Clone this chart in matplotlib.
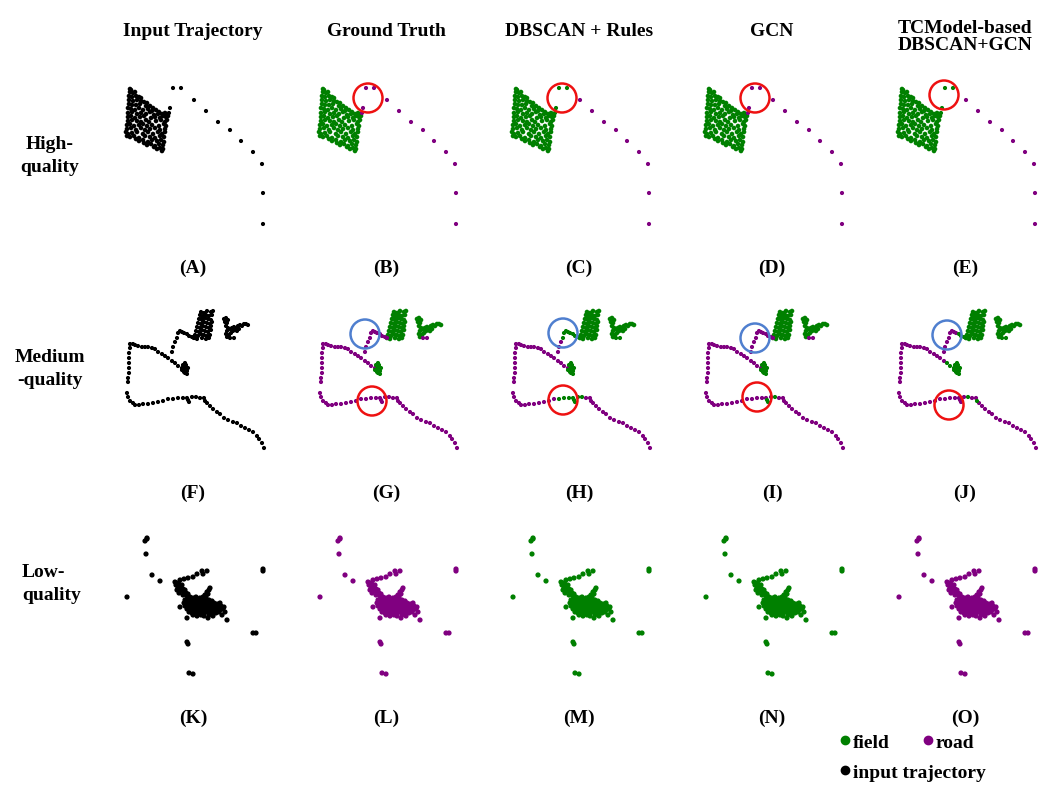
import matplotlib
matplotlib.use('Agg')
import matplotlib.pyplot as plt
from matplotlib.patches import Circle

W, H = 1049, 786
plt.rcParams['font.family'] = ['Liberation Serif', 'DejaVu Serif']
plt.rcParams['font.weight'] = 'bold'

col_titles = ['Input Trajectory', 'Ground Truth', 'DBSCAN + Rules', 'GCN', 'TCModel-based\nDBSCAN+GCN']
row_titles = ['High-\nquality', 'Medium\n-quality', 'Low-\nquality']
letters = ['(A)', '(B)', '(C)', '(D)', '(E)', '(F)', '(G)', '(H)', '(I)', '(J)',
           '(K)', '(L)', '(M)', '(N)', '(O)']

# ---- high quality trajectory (local panel pixels) ----
hq_field_x = [20, 21, 20, 23, 25, 19, 22, 26, 29, 31, 19, 23, 27, 31, 34, 37,
              19, 22, 26, 30, 36, 40, 43, 18, 21, 25, 29, 33, 38, 42, 46, 49,
              18, 22, 27, 31, 36, 40, 44, 48, 52, 55, 57, 18, 21, 25, 30, 34, 41, 45, 50, 53, 56, 58,
              18, 22, 27, 31, 36, 39, 46, 51, 55, 57, 17, 20, 24, 29, 33, 37, 42, 49, 54, 56,
              17, 21, 26, 31, 35, 40, 45, 50, 55, 16, 18, 22, 27, 33, 38, 43, 48, 52, 55,
              17, 20, 24, 29, 35, 40, 45, 50, 54, 26, 29, 33, 38, 42, 47, 51, 54,
              34, 37, 41, 45, 49, 53, 44, 47, 50, 53, 52]
hq_field_y = [19, 20, 22, 23, 22, 26, 27, 26, 27, 28, 30, 31, 30, 31, 32, 33,
              34, 35, 35, 34, 36, 36, 38, 38, 39, 40, 38, 40, 39, 41, 40, 42,
              43, 42, 44, 43, 44, 42, 45, 44, 44, 43, 44, 47, 46, 48, 47, 46, 48, 47, 48, 46, 47, 46,
              51, 50, 51, 52, 50, 52, 51, 50, 52, 50, 55, 54, 56, 55, 54, 56, 55, 56, 54, 56,
              59, 58, 60, 58, 60, 59, 58, 60, 59, 62, 64, 63, 62, 64, 62, 64, 62, 64, 62,
              66, 67, 66, 68, 66, 67, 68, 66, 67, 69, 71, 70, 72, 70, 71, 70, 72,
              73, 75, 74, 76, 74, 75, 77, 79, 78, 79, 81]
hq_road_x = [63, 71, 60, 59, 84, 96, 108, 120, 131, 143, 152, 153, 153]
hq_road_y = [18, 18, 38, 43, 30, 41, 52, 60, 71, 82, 94, 123, 154]
hq_road_lab = ['ppppppppppppp', 'ggggppppppppp', 'ppppppppppppp', 'ggggppppppppp']

# ---- medium quality trajectory ----
mq_top_x = [91, 94, 97, 101, 103, 90, 93, 96, 99, 102, 92, 89, 92, 95, 98, 101,
            88, 91, 94, 97, 100, 102, 87, 90, 93, 96, 99, 101, 86, 89, 92, 95, 98, 101,
            85, 88, 91, 94, 97, 100, 84, 87, 92, 96, 99,
            114, 116, 118, 115, 117, 116, 118, 117, 116, 117, 120, 122, 124, 126, 125,
            128, 130, 132, 134, 136, 138, 127, 129, 123, 121, 119]
mq_top_y = [17, 18, 16, 17, 16, 20, 21, 20, 21, 20, 23, 24, 25, 23, 24, 25,
            28, 29, 27, 28, 29, 27, 32, 33, 31, 32, 33, 31, 36, 37, 35, 36, 37, 35,
            40, 41, 39, 40, 41, 40, 43, 44, 43, 44, 43,
            24, 23, 25, 27, 28, 31, 33, 36, 39, 42, 34, 33, 32, 33, 35,
            31, 30, 31, 29, 29, 30, 36, 34, 36, 38, 40]
mq_bottom_x = [120, 124]
mq_bottom_y = [43, 43]
mq_tip_x = [73, 75, 76, 74, 77, 75, 72, 78, 76, 77, 74]
mq_tip_y = [70, 68, 72, 74, 76, 78, 75, 73, 70, 79, 77]
mq_seg_x = [20, 23, 25, 28, 32, 35, 38, 42, 45, 48, 52, 55, 58, 62, 65, 68, 72]
mq_seg_y = [49, 49, 50, 51, 52, 52, 52, 53, 54, 57, 59, 61, 63, 66, 68, 71, 73]
mq_path_x = [20, 19, 19, 19, 19, 19, 18, 18, 17, 18, 20, 23, 25, 29, 33, 38, 43, 48, 53, 58,
             97, 100, 103, 107, 110, 114, 118, 123, 127, 131, 135, 139, 143, 147, 149, 152, 154]
mq_path_y = [53, 58, 63, 68, 73, 78, 83, 87, 98, 102, 106, 108, 110, 110, 109, 109, 108, 107, 106, 104,
             108, 111, 114, 117, 119, 123, 125, 127, 128, 131, 133, 135, 137, 141, 144, 148, 153]
mq_blue_x = [62, 63, 65, 67, 68, 70, 72, 74, 77, 79, 82, 84]
mq_blue_y = [57, 52, 47, 43, 38, 36, 37, 38, 39, 41, 42, 43]
mq_blue_lab = ['pppppppppppp', 'pppggggggggg', 'pppppppppppp', 'ppppppppgggg']
mq_red_x = [63, 68, 73, 77, 78, 79, 82, 86, 90, 94, 95]
mq_red_y = [104, 103, 103, 103, 105, 107, 102, 102, 103, 103, 106]
mq_red_lab = ['ppppppppppp', 'ggggggggppp', 'ppppggpgppp', 'pppppppgppg']
mq_seg_lab = ['p' * 17, 'p' * 17, 'p' * 17, 'p' * 14 + 'ggg']
mq_bottom_lab = ['pp', 'gg', 'pp', 'gg']

# ---- low quality trajectory ----
lq_x = [65, 67, 69, 66, 70, 72, 68, 71, 73, 75, 70, 74, 76, 78, 73, 77, 79, 67, 69,
        100, 99, 97, 98, 95,
        80, 83, 86, 90, 93, 96,
        75, 78, 81, 84, 87, 90, 93, 96, 99, 102,
        74, 77, 80, 83, 86, 89, 92, 95, 98, 101, 104, 107, 110,
        75, 78, 81, 84, 87, 90, 93, 96, 99, 102, 105, 108, 111, 114,
        77, 80, 83, 86, 89, 92, 95, 98, 101, 104, 107, 110, 113,
        79, 82, 85, 88, 91, 94, 97, 100, 103, 106, 109,
        83, 87, 91, 94, 99, 103,
        70, 77, 98, 117, 112, 115,
        35, 37, 37, 36, 42, 50, 17, 153, 153, 143, 146, 77, 78, 79, 83,
        70, 74, 78, 83, 87, 92, 93, 97]
lq_y = [62, 63, 64, 65, 66, 65, 68, 68, 69, 70, 71, 72, 73, 74, 75, 76, 77, 70, 73,
        68, 70, 72, 74, 75,
        77, 78, 77, 78, 77, 77,
        80, 80, 81, 80, 81, 80, 81, 80, 80, 81,
        83, 84, 83, 84, 83, 84, 83, 84, 83, 84, 83, 84, 83,
        86, 87, 86, 87, 86, 87, 86, 87, 86, 87, 86, 87, 86, 87,
        89, 90, 89, 90, 89, 90, 89, 90, 89, 90, 89, 90, 89,
        92, 93, 92, 93, 92, 93, 92, 93, 92, 93, 92,
        95, 96, 95, 96, 95, 96,
        87, 98, 98, 100, 95, 92,
        21, 19, 18, 34, 55, 61, 77, 49, 51, 113, 113, 122, 124, 153, 154,
        60, 59, 58, 57, 54, 51, 54, 51]
lq_colour = ['k', 'p', 'g', 'g', 'p']

colors = {'g': 'green', 'p': 'purple', 'k': 'black'}

# circle marks: (panel col, row, cx, cy, colour)
circles = [(1, 0, 65, 28, 'r'), (2, 0, 66, 28, 'r'), (3, 0, 66, 28, 'r'), (4, 0, 62, 25, 'r'),
           (1, 1, 62, 39, 'b'), (2, 1, 67, 38, 'b'), (3, 1, 66, 43, 'b'), (4, 1, 65, 40, 'b'),
           (1, 1, 69, 106, 'r'), (2, 1, 67, 105, 'r'), (3, 1, 68, 102, 'r'), (4, 1, 67, 110, 'r')]
circ_col = {'r': '#ee1111', 'b': '#4f7fcf'}

fig = plt.figure(figsize=(W / 100, H / 100), dpi=100)
row_y0 = [70, 295, 520]


def panel(col, row):
    x0 = 110 + 193 * col
    y0 = row_y0[row]
    ax = fig.add_axes([x0 / W, 1 - (y0 + 170) / H, 170 / W, 170 / H])
    ax.set_xlim(0, 170)
    ax.set_ylim(170, 0)
    ax.axis('off')
    return ax


def dots(ax, xs, ys, lab, s=9):
    if len(lab) == 1:
        lab = lab * len(xs)
    ax.scatter(xs, ys, c=[colors[l] for l in lab], s=s, linewidths=0)


axes = {}
for r in range(3):
    for c in range(5):
        axes[(c, r)] = panel(c, r)

# row 1
for c in range(5):
    ax = axes[(c, 0)]
    if c == 0:
        dots(ax, hq_field_x, hq_field_y, 'k', s=11)
        dots(ax, hq_road_x, hq_road_y, 'k')
    else:
        dots(ax, hq_field_x, hq_field_y, 'g', s=11)
        dots(ax, hq_road_x, hq_road_y, hq_road_lab[c - 1])

# row 2
for c in range(5):
    ax = axes[(c, 1)]
    if c == 0:
        for gx, gy in [(mq_top_x, mq_top_y), (mq_bottom_x, mq_bottom_y), (mq_tip_x, mq_tip_y),
                       (mq_seg_x, mq_seg_y), (mq_path_x, mq_path_y), (mq_blue_x, mq_blue_y),
                       (mq_red_x, mq_red_y)]:
            dots(ax, gx, gy, 'k')
    else:
        i = c - 1
        dots(ax, mq_top_x, mq_top_y, 'g', s=11)
        dots(ax, mq_bottom_x, mq_bottom_y, mq_bottom_lab[i])
        dots(ax, mq_seg_x, mq_seg_y, mq_seg_lab[i])
        dots(ax, mq_tip_x, mq_tip_y, 'g')
        dots(ax, mq_path_x, mq_path_y, 'p')
        dots(ax, mq_blue_x, mq_blue_y, mq_blue_lab[i])
        dots(ax, mq_red_x, mq_red_y, mq_red_lab[i])

# row 3
for c in range(5):
    dots(axes[(c, 2)], lq_x, lq_y, lq_colour[c], s=14)

for c, r, cx, cy, k in circles:
    axes[(c, r)].add_patch(Circle((cx, cy), 14.5, fill=False, lw=1.8, ec=circ_col[k]))

# texts
fs = 14
for c, t in enumerate(col_titles):
    ty = 37 if '\n' in t else 32
    fig.text((193 + 193 * c) / W, 1 - ty / H, t, ha='center', va='center', fontsize=fs,
             fontweight='bold', linespacing=1.0)
fig.text(50 / W, 1 - 156 / H, row_titles[0], ha='center', va='center', fontsize=fs,
         fontweight='bold', linespacing=1.4)
fig.text(50 / W, 1 - 369 / H, row_titles[1], ha='center', va='center', fontsize=fs,
         fontweight='bold', linespacing=1.4)
fig.text(22 / W, 1 - 584 / H, row_titles[2], ha='left', va='center', fontsize=fs,
         fontweight='bold', linespacing=1.4)
label_y = [268, 493, 718]
for i, t in enumerate(letters):
    r, c = divmod(i, 5)
    fig.text((193 + 193 * c) / W, 1 - label_y[r] / H, t, ha='center', va='center',
             fontsize=fs, fontweight='bold')

# legend
lg = fig.add_axes([0, 0, 1, 1])
lg.set_xlim(0, W)
lg.set_ylim(H, 0)
lg.axis('off')
leg_items = [('field', 'green', 845, 740), ('road', 'purple', 928, 740), ('input trajectory', 'black', 845, 770)]
for name, col, lx, ly in leg_items:
    lg.plot(lx, ly, 'o', color=col, ms=6)
    lg.text(lx + 8, ly + 3, name, ha='left', va='center', fontsize=fs, fontweight='bold')

fig.savefig('out.png', dpi=100)
